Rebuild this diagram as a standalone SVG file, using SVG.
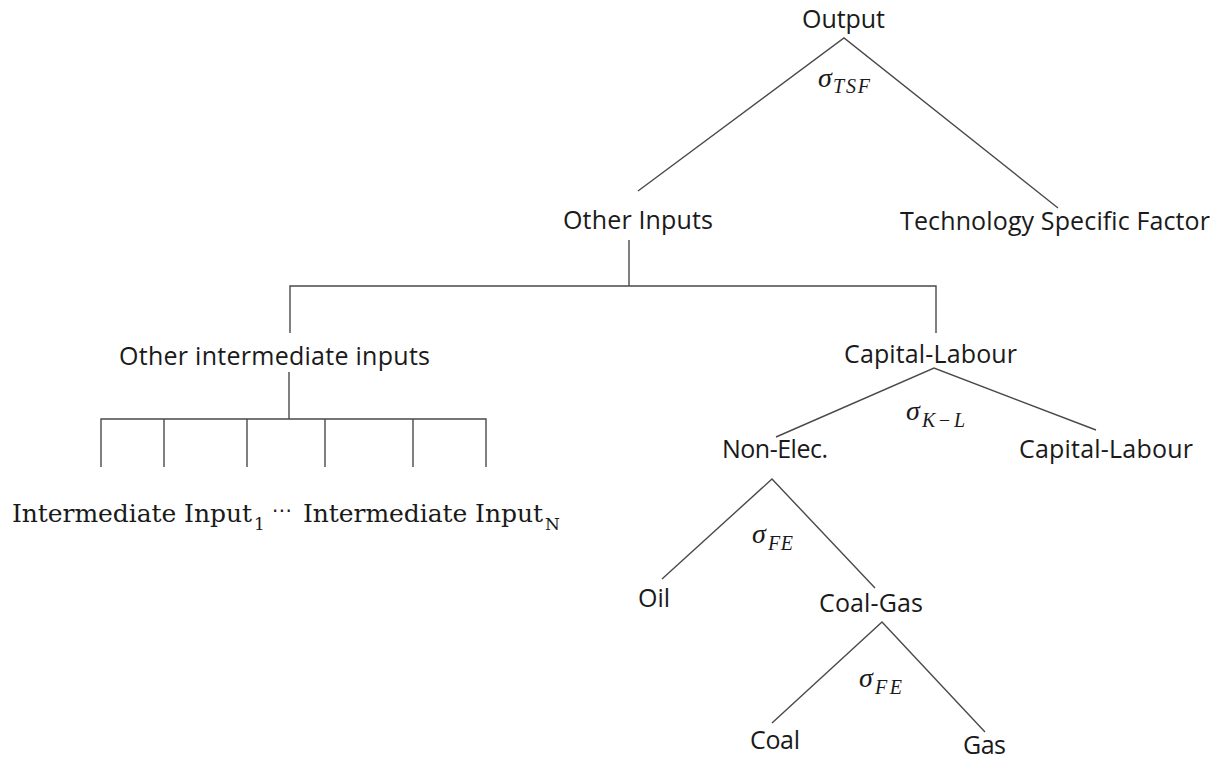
<svg xmlns="http://www.w3.org/2000/svg" width="1224" height="763" viewBox="0 0 1224 763">
<style>
.lbl{font-family:"Open Sans","Noto Sans","Liberation Sans",sans-serif;font-size:25px;fill:#1a1a1a}
.ser{font-family:"DejaVu Serif","Liberation Serif",serif;font-size:25px;fill:#1a1a1a}
.sub{font-family:"DejaVu Serif","Liberation Serif",serif;font-size:17px;fill:#1a1a1a}
.sig{font-family:"Liberation Serif","DejaVu Serif",serif;font-style:italic;font-size:28px;fill:#1a1a1a}
.sigs{font-family:"Liberation Serif","DejaVu Serif",serif;font-style:italic;font-size:20px;fill:#1a1a1a}
.ln{stroke:#4a4a4a;stroke-width:1.4;fill:none}
</style>
<rect width="1224" height="763" fill="#ffffff"/>
<g id="connectors">
<path class="ln" d="M638,191 L844,38 L1058,208"/>
<path class="ln" d="M629,240 V286"/>
<path class="ln" d="M290,333 V286 H936 V333"/>
<path class="ln" d="M289,372 V419"/>
<path class="ln" d="M101,467 V419 H486 V467 M164,419 V467 M247,419 V467 M325,419 V467 M413,419 V467"/>
<path class="ln" d="M776,437 L934,368 L1096,430"/>
<path class="ln" d="M662,579 L772,479 L875,588"/>
<path class="ln" d="M772,723 L882,622 L985,732"/>
</g>
<g id="output"><text class="lbl" x="802" y="28" textLength="83" lengthAdjust="spacing">Output</text></g>
<g id="sigma-tsf"><text class="sig" x="818" y="87">σ</text><text class="sigs" x="833" y="93" textLength="37" lengthAdjust="spacing">TSF</text></g>
<g id="other-inputs"><text class="lbl" x="563" y="229" textLength="150" lengthAdjust="spacing">Other Inputs</text></g>
<g id="tsf"><text class="lbl" x="900" y="230" textLength="310" lengthAdjust="spacing">Technology Specific Factor</text></g>
<g id="other-intermediate"><text class="lbl" x="119" y="365" textLength="311" lengthAdjust="spacing">Other intermediate inputs</text></g>
<g id="capital-labour"><text class="lbl" x="844" y="363" textLength="173" lengthAdjust="spacing">Capital-Labour</text></g>
<g id="sigma-kl"><text class="sig" x="906" y="420">σ</text><text class="sigs" x="922" y="427" textLength="43" lengthAdjust="spacing">K−L</text></g>
<g id="non-elec"><text class="lbl" x="722" y="458" textLength="106" lengthAdjust="spacing">Non-Elec.</text></g>
<g id="capital-labour-2"><text class="lbl" x="1019" y="458" textLength="174" lengthAdjust="spacing">Capital-Labour</text></g>
<g id="sigma-fe-1"><text class="sig" x="752" y="543">σ</text><text class="sigs" x="768" y="550" textLength="25" lengthAdjust="spacing">FE</text></g>
<g id="oil"><text class="lbl" x="638" y="607" textLength="32" lengthAdjust="spacing">Oil</text></g>
<g id="coal-gas"><text class="lbl" x="819" y="612" textLength="104" lengthAdjust="spacing">Coal-Gas</text></g>
<g id="sigma-fe-2"><text class="sig" x="859" y="687">σ</text><text class="sigs" x="875" y="694" textLength="27" lengthAdjust="spacing">FE</text></g>
<g id="coal"><text class="lbl" x="750" y="749" textLength="50" lengthAdjust="spacing">Coal</text></g>
<g id="gas"><text class="lbl" x="963" y="754" textLength="43" lengthAdjust="spacing">Gas</text></g>
<g id="intermediate-inputs">
<text class="ser" x="12" y="522" textLength="240" lengthAdjust="spacing">Intermediate Input</text>
<text class="sub" x="254" y="530">1</text>
<text class="ser" x="272" y="517" style="font-family:'DejaVu Sans',sans-serif;font-size:20px">⋯</text>
<text class="ser" x="303" y="522" textLength="240" lengthAdjust="spacing">Intermediate Input</text>
<text class="sub" x="545" y="530">N</text>
</g>
</svg>
